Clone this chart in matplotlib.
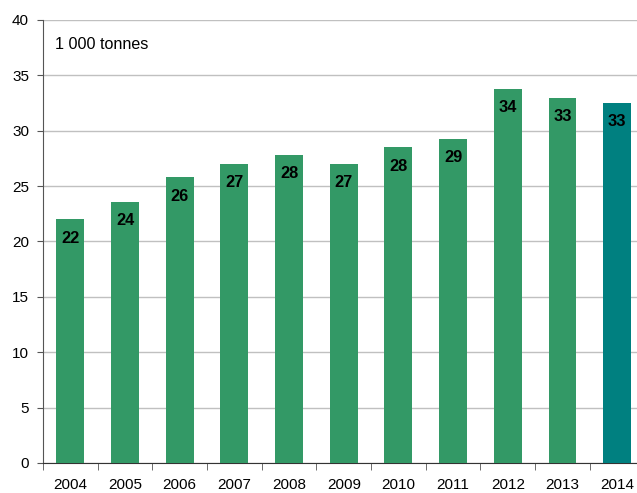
import matplotlib
matplotlib.use("Agg")
import matplotlib.pyplot as plt

plt.rcParams["font.family"] = "Liberation Sans"

years = ["2004", "2005", "2006", "2007", "2008", "2009", "2010", "2011", "2012", "2013", "2014"]
values = [22.0, 23.6, 25.8, 27.0, 27.8, 27.0, 28.5, 29.3, 33.8, 33.0, 32.5]
labels = ["22", "24", "26", "27", "28", "27", "28", "29", "34", "33", "33"]
colors = ["#339966"] * 10 + ["#008080"]

fig = plt.figure(figsize=(6.37, 4.93), dpi=100)
ax = fig.add_axes([43 / 637, 30 / 493, 601.5 / 637, 443 / 493])

x = list(range(len(years)))
bars = ax.bar(x, values, width=0.51, color=colors, zorder=3)
for xi, v, lab in zip(x, values, labels):
    ax.text(xi, v - 1.7, lab, ha="center", va="center", fontsize=11.8,
            fontweight="bold", color="black", zorder=4)

ax.set_xlim(-0.5, len(years) - 0.5)
ax.set_ylim(0, 40)
ax.set_yticks(range(0, 41, 5))
ax.set_xticks(x)
ax.set_xticklabels(years)
ax.set_xticks([i - 0.5 for i in range(len(years) + 1)], minor=True)
ax.tick_params(axis="x", which="major", length=0, labelsize=11, pad=11)
ax.tick_params(axis="x", which="minor", length=5, color="#555555")
ax.tick_params(axis="y", length=4, color="#555555", labelsize=11, pad=6)
ax.yaxis.grid(True, color="#c0c0c0", linewidth=1, zorder=0)
for s in ["top", "right"]:
    ax.spines[s].set_visible(False)
ax.spines["left"].set_color("#555555")
ax.spines["bottom"].set_color("#333333")
ax.text(12 / 601.5, 0.944, "1 000 tonnes", transform=ax.transAxes,
        fontsize=11.6, va="center", ha="left")

fig.savefig("out.png", dpi=100)
